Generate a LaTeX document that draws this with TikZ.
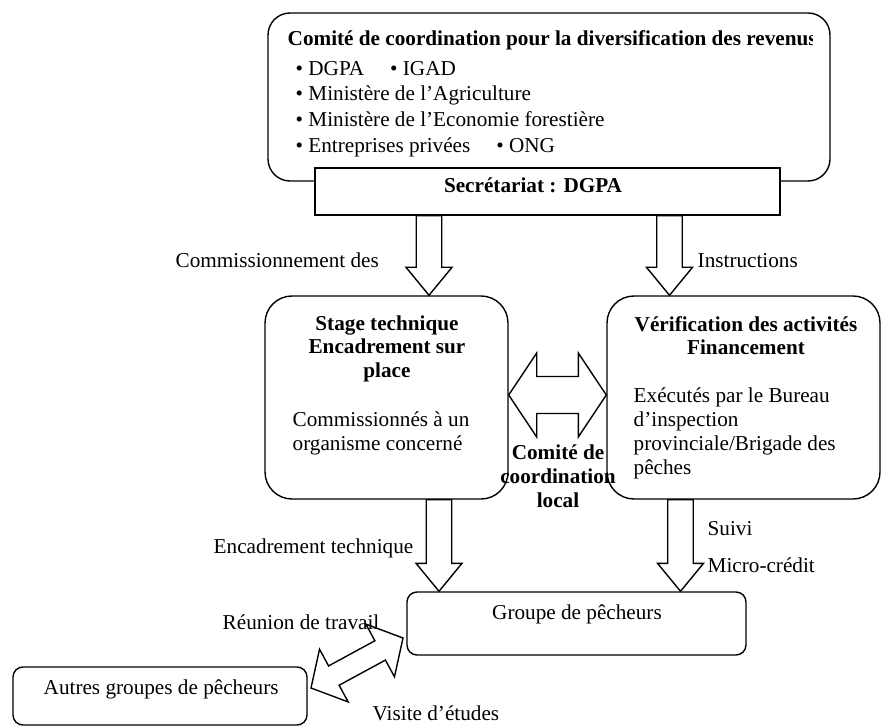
\documentclass[tikz,border=0pt]{standalone}
\usepackage{fontspec}
\setmainfont{Liberation Serif}
\usetikzlibrary{calc,positioning}

\newcommand{\basefont}{\fontsize{21.2}{24}\selectfont}

\begin{document}
\begin{tikzpicture}[
  x=1pt, y=-1pt,
  line width=1.4pt,
  every node/.style={font=\basefont},
  bigbox/.style={draw, rounded corners=27pt, fill=white, inner sep=0pt},
  flatbox/.style={draw, fill=white, inner sep=0pt},
  smallbox/.style={draw, rounded corners=10pt, fill=white, inner sep=0pt},
  txt/.style={inner sep=0pt},
  head/.style={inner sep=0pt, align=center, anchor=north, font=\fontsize{21.2}{23.5}\selectfont\bfseries},
  body/.style={inner sep=0pt, align=left, anchor=north west},
  fatarrow/.style n args={3}{to path={
    let \p1=($(\tikztotarget)-(\tikztostart)$), \n1={atan2(\y1,\x1)},
        \n2={veclen(\x1,\y1)-#3}, \n3={#2-#1} in
    ($(\tikztostart)+(\n1+90:#1)$) -- ++(\n1:\n2) -- ++(\n1+90:\n3)
    -- (\tikztotarget) -- ($(\tikztotarget)+(\n1+180:#3)+(\n1-90:#2)$)
    -- ++(\n1+90:\n3) -- ++(\n1+180:\n2) -- cycle}},
  fatdouble/.style n args={3}{to path={
    let \p1=($(\tikztotarget)-(\tikztostart)$), \n1={atan2(\y1,\x1)},
        \n2={veclen(\x1,\y1)-2*#3}, \n3={#2-#1} in
    (\tikztostart) -- ($(\tikztostart)+(\n1:#3)+(\n1+90:#2)$) -- ++(\n1-90:\n3)
    -- ++(\n1:\n2) -- ++(\n1+90:\n3) -- (\tikztotarget)
    -- ($(\tikztotarget)+(\n1+180:#3)+(\n1-90:#2)$) -- ++(\n1+90:\n3)
    -- ++(\n1+180:\n2) -- ++(\n1-90:\n3) -- cycle}},
  downarrow/.style={draw, fill=white, fatarrow={12.75pt}{23pt}{28pt}},
  sidearrow/.style={draw, fill=white, fatdouble={18.5pt}{42pt}{28pt}},
  slantarrow/.style={draw, fill=white, fatdouble={11pt}{30pt}{26pt}}
]
\useasboundingbox (0,0) rectangle (883,727);

% comite national
\node[draw, rounded corners=22pt, inner sep=0pt, minimum width=562pt, minimum height=168pt] (comite) at (549,97) {};
\begin{scope}
  \clip (comite.north west) rectangle (812,60);
  \node[txt, anchor=base west, font=\basefont\bfseries] (comitetitle) at (287,46)
    {Comité de coordination pour la diversification des revenus};
\end{scope}
\node[body, font=\fontsize{21.2}{25.7}\selectfont] (membres) at (295,60.5)
  {• DGPA\hspace{26pt}• IGAD\\• Ministère de l’Agriculture\\• Ministère de l’Economie forestière\\• Entreprises privées\hspace{26pt}• ONG};

\node[flatbox, minimum width=465pt, minimum height=47pt] (secr) at (547.5,191.5) {};
\node[txt, anchor=base, font=\basefont\bfseries] (secrtxt) at (533,192.5) {Secrétariat : DGPA};

% fleches vers les deux blocs
\coordinate (a1) at ([xshift=-118.5pt]secr.south);
\coordinate (a2) at ([xshift=122pt]secr.south);

\node[bigbox, minimum width=243pt, minimum height=203pt] (stage) at (386.5,397.5) {};
\node[bigbox, minimum width=273pt, minimum height=203pt] (verif) at (743.5,397.5) {};

\draw[downarrow] (a1) to (a1 |- stage.north);
\draw[downarrow] (a2) to (a2 |- verif.north);

\node[head] (stagehead) at (387,315) {Stage technique\\Encadrement sur\\place};
\node[body] (stagebody) at (292,411.5) {Commissionnés à un\\organisme concerné};
\node[head] (verifhead) at (746,315.5) {Vérification des activités\\Financement};
\node[body] (verifbody) at (633,387.5) {Exécutés par le Bureau\\d’inspection\\provinciale/Brigade des\\pêches};

% comite local
\coordinate (d1) at ([yshift=2.5pt]stage.east);
\coordinate (d2) at (d1 -| verif.west);
\draw[sidearrow] (d1) to (d2);
\node[head, font=\fontsize{21.2}{24}\selectfont\bfseries] (local) at (558,444.5) {Comité de\\coordination\\local};

% groupes
\node[smallbox, minimum width=339pt, minimum height=63pt] (groupe) at (576.5,623.5) {};
\node[smallbox, minimum width=294pt, minimum height=58pt] (autres) at (160,696) {};
\node[txt, anchor=base] (groupetxt) at (577,619) {Groupe de pêcheurs};
\node[txt, anchor=base west] (autrestxt) at (43,694) {Autres groupes de pêcheurs};

\coordinate (a3) at ([xshift=52.5pt]stage.south);
\coordinate (a4) at ([xshift=-63pt]verif.south);
\draw[downarrow] (a3) to (a3 |- groupe.north);
\draw[downarrow] (a4) to (a4 |- groupe.north);

\coordinate (e1) at (311,688);
\coordinate (e2) at (403,638);
\draw[slantarrow] (e1) to (e2);

% libelles des fleches
\node[txt, anchor=base west] (lbcommission) at (175,268) {Commissionnement des};
\node[txt, anchor=base west] (lbinstr) at (697,268) {Instructions};
\node[txt, anchor=base west] (lbencadr) at (213,553) {Encadrement technique};
\node[txt, anchor=base west] (lbsuivi) at (707,535) {Suivi};
\node[txt, anchor=base west] (lbcredit) at (707,572) {Micro-crédit};
\node[txt, anchor=base west] (lbreunion) at (222,629) {Réunion de travail};
\node[txt, anchor=base west] (lbvisite) at (372,720) {Visite d’études};

\end{tikzpicture}
\end{document}
